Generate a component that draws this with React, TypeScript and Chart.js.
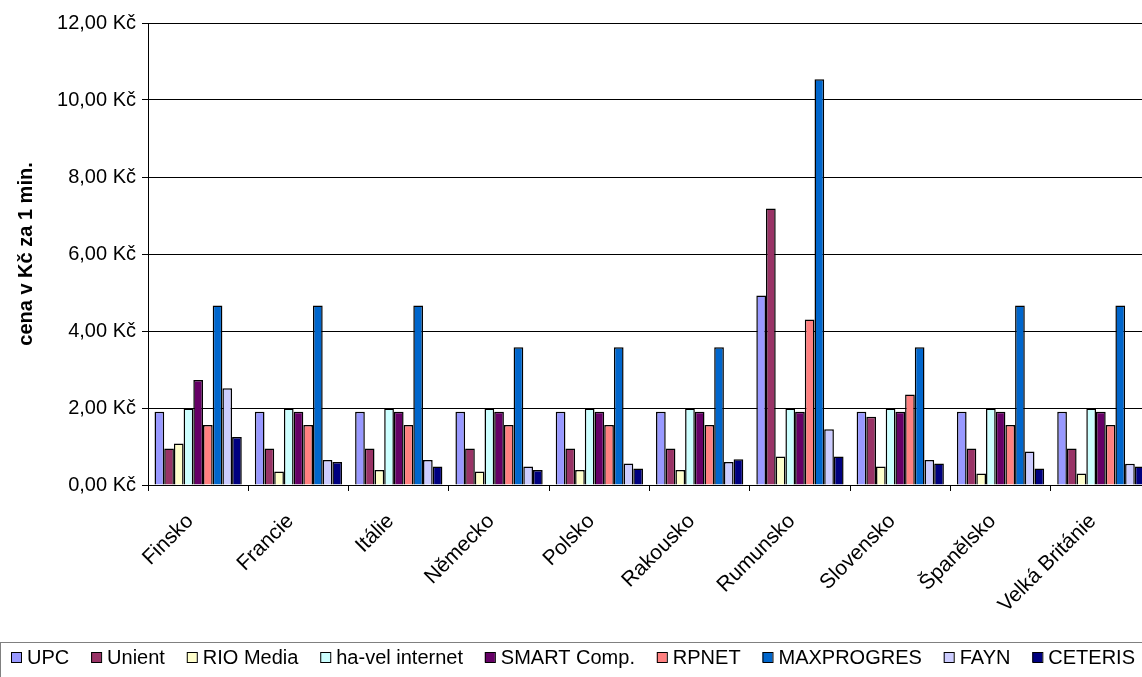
import React, { useEffect, useRef } from "react";
import { Chart, registerables } from "chart.js";

Chart.register(...registerables);

const categories = [
  "Finsko",
  "Francie",
  "Itálie",
  "Německo",
  "Polsko",
  "Rakousko",
  "Rumunsko",
  "Slovensko",
  "Španělsko",
  "Velká Británie",
];

const upc = [1.9, 1.9, 1.9, 1.9, 1.9, 1.9, 4.92, 1.9, 1.9, 1.9];
const unient = [0.95, 0.95, 0.95, 0.95, 0.95, 0.95, 7.18, 1.77, 0.95, 0.95];
const rioMedia = [1.08, 0.35, 0.39, 0.35, 0.39, 0.39, 0.74, 0.48, 0.3, 0.3];
const haVel = [1.99, 1.99, 1.99, 1.99, 1.99, 1.99, 1.99, 1.99, 1.99, 1.99];
const smart = [2.73, 1.9, 1.9, 1.9, 1.9, 1.9, 1.9, 1.9, 1.9, 1.9];
const rpnet = [1.56, 1.56, 1.56, 1.56, 1.56, 1.56, 4.3, 2.35, 1.56, 1.56];
const maxprogres = [4.66, 4.66, 4.66, 3.58, 3.58, 3.58, 10.54, 3.58, 4.66, 4.66];
const fayn = [2.51, 0.65, 0.65, 0.48, 0.56, 0.6, 1.45, 0.65, 0.87, 0.55];
const ceteris = [1.25, 0.6, 0.48, 0.39, 0.43, 0.67, 0.74, 0.56, 0.43, 0.48];

const seriesNames = [
  "UPC",
  "Unient",
  "RIO Media",
  "ha-vel internet",
  "SMART Comp.",
  "RPNET",
  "MAXPROGRES",
  "FAYN",
  "CETERIS",
];
const seriesValues = [upc, unient, rioMedia, haVel, smart, rpnet, maxprogres, fayn, ceteris];
const seriesColors = [
  "#9999FF",
  "#993366",
  "#FFFFCC",
  "#CCFFFF",
  "#660066",
  "#FF8080",
  "#0066CC",
  "#CCCCFF",
  "#000080",
];

const yTicks = [0, 2, 4, 6, 8, 10, 12];
const yTitle = "cena v Kč za 1 min.";

const FONT = "'Liberation Sans', Arial, sans-serif";

const legendPlugin = {
  id: "boxLegend",
  afterDraw(chart: any) {
    const ctx = chart.ctx as CanvasRenderingContext2D;
    ctx.save();
    ctx.strokeStyle = "#808080";
    ctx.lineWidth = 1;
    ctx.strokeRect(0.5, 642.5, 1300, 60);
    ctx.font = `20px ${FONT}`;
    ctx.textBaseline = "middle";
    ctx.textAlign = "left";
    const ds = chart.data.datasets;
    const box = 10;
    const textOff = 16;
    const startX = 11;
    const endX = 1135;
    const widths = ds.map((d: any) => ctx.measureText(d.label).width);
    const used = widths.reduce((a: number, b: number) => a + b + textOff, 0);
    const gap = (endX - startX - used) / (ds.length - 1);
    let x = startX;
    const cy = 658;
    ds.forEach((d: any, i: number) => {
      ctx.fillStyle = d.backgroundColor;
      ctx.fillRect(x, cy - box / 2 - 1, box, box);
      ctx.strokeStyle = "#000";
      ctx.strokeRect(x + 0.5, cy - box / 2 - 0.5, box, box);
      ctx.fillStyle = "#000";
      ctx.fillText(d.label, x + textOff, cy);
      x += textOff + widths[i] + gap;
    });
    ctx.restore();
  },
};

export default function App() {
  const ref = useRef<HTMLCanvasElement | null>(null);
  useEffect(() => {
    if (!ref.current) return;
    const chart = new Chart(ref.current, {
      type: "bar",
      data: {
        labels: categories,
        datasets: seriesNames.map((name, i) => ({
          label: name,
          data: seriesValues[i],
          backgroundColor: seriesColors[i],
          borderColor: "#000",
          borderWidth: 1.5,
          barPercentage: 1,
          categoryPercentage: 0.87,
        })),
      },
      options: {
        animation: false,
        responsive: false,
        devicePixelRatio: 1,
        layout: { padding: { top: 23, right: 9, bottom: 40, left: 0 } },
        plugins: {
          legend: { display: false },
          tooltip: { enabled: false },
        },
        scales: {
          x: {
            offset: true,
            grid: {
              offset: true,
              drawOnChartArea: false,
              drawTicks: true,
              tickLength: 6,
              color: "#000",
            },
            border: { color: "#000", width: 1 },
            ticks: {
              autoSkip: false,
              maxRotation: 45,
              minRotation: 45,
              padding: 18,
              labelOffset: -8,
              color: "#000",
              font: { family: FONT, size: 21 },
            },
            afterFit(scale: any) {
              scale.height = 677 - 40 - 485;
            },
          },
          y: {
            min: 0,
            max: 12,
            afterBuildTicks(scale: any) {
              scale.ticks = yTicks.map((v) => ({ value: v }));
            },
            grid: {
              color: "#000",
              lineWidth: 1,
              tickLength: 6,
            },
            border: { color: "#000", width: 1 },
            ticks: {
              padding: 6,
              color: "#000",
              font: { family: FONT, size: 20 },
              callback: (v: any) => Number(v).toFixed(2).replace(".", ",") + " Kč",
            },
            title: {
              display: true,
              text: yTitle,
              color: "#000",
              font: { family: FONT, size: 20, weight: "bold" },
              padding: { top: 14, bottom: 0 },
            },
            afterFit(scale: any) {
              scale.width = 148;
            },
          },
        },
      },
      plugins: [legendPlugin],
    });
    return () => chart.destroy();
  }, []);
  return (
    <div
      style={{
        position: "fixed",
        left: 0,
        top: 0,
        width: 1142,
        height: 677,
        overflow: "hidden",
        background: "#fff",
      }}
    >
      <canvas ref={ref} width={1160} height={677} style={{ width: 1160, height: 677, display: "block" }} />
    </div>
  );
}
